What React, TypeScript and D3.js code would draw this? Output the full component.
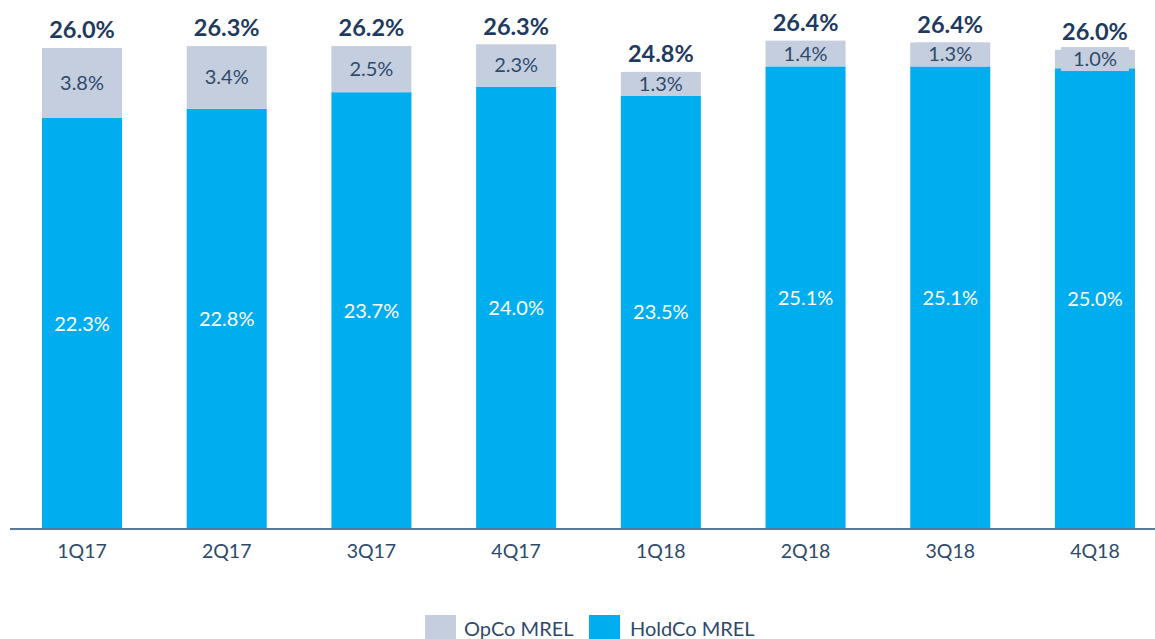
import React from "react";
import * as d3 from "d3";

const categories = ["1Q17", "2Q17", "3Q17", "4Q17", "1Q18", "2Q18", "3Q18", "4Q18"];
const holdCo = [22.3, 22.8, 23.7, 24.0, 23.5, 25.1, 25.1, 25.0];
const opCo = [3.8, 3.4, 2.5, 2.3, 1.3, 1.4, 1.3, 1.0];
const totals = [26.0, 26.3, 26.2, 26.3, 24.8, 26.4, 26.4, 26.0];

const W = 1155;
const H = 639;
const baseY = 529;
const colHold = "#00AEEF";
const colOp = "#C5CEDF";
const navy = "#1F3A60";
const textCol = "#2E4A6B";
const font = "Lato, 'Open Sans', sans-serif";

export default function App() {
  const x = d3.scaleBand<string>().domain(categories).range([13.06, 1163.9]).paddingInner(0.447).paddingOuter(0.2);
  const y = d3.scaleLinear().domain([0, 1]).range([baseY, baseY - 18.43]);
  const bw = x.bandwidth();

  return (
    <svg width={W} height={H} style={{ position: "absolute", left: 0, top: 0, background: "#fff" }}>
      {categories.map((c, i) => {
        const x0 = x(c)!;
        const cx = x0 + bw / 2;
        const yHold = y(holdCo[i]);
        const yTop = y(holdCo[i] + opCo[i]);
        const opMid = (yHold + yTop) / 2;
        return (
          <g key={c}>
            <rect x={x0} y={yHold} width={bw} height={baseY - yHold} fill={colHold} />
            <rect x={x0} y={yTop} width={bw} height={yHold - yTop} fill={colOp} />
            <text x={cx} y={(yHold + baseY) / 2} dy="0.35em" textAnchor="middle" fill="#fff" fontSize={20} fontFamily={font}>
              {holdCo[i].toFixed(1)}%
            </text>
            <rect x={cx - 34} y={opMid - 12} width={68} height={24} fill={colOp} />
            <text x={cx} y={opMid} dy="0.35em" textAnchor="middle" fill={textCol} fontSize={20} fontFamily={font}>
              {opCo[i].toFixed(1)}%
            </text>
            <text x={cx} y={yTop - 18} dy="0.35em" textAnchor="middle" fill={navy} fontSize={23.5} fontWeight="bold" fontFamily={font}>
              {totals[i].toFixed(1)}%
            </text>
            <text x={cx} y={551} dy="0.35em" textAnchor="middle" fill={textCol} fontSize={19.5} fontFamily={font}>
              {c}
            </text>
          </g>
        );
      })}
      <line x1={10} x2={W} y1={baseY} y2={baseY} stroke="#5B7A9A" strokeWidth={2} />
      <g>
        <rect x={425} y={615} width={31} height={26} fill={colOp} />
        <text x={464} y={629} dy="0.35em" fill={textCol} fontSize={20} fontFamily={font}>OpCo MREL</text>
        <rect x={589} y={615} width={31} height={26} fill={colHold} />
        <text x={630} y={629} dy="0.35em" fill={textCol} fontSize={20} fontFamily={font}>HoldCo MREL</text>
      </g>
    </svg>
  );
}
